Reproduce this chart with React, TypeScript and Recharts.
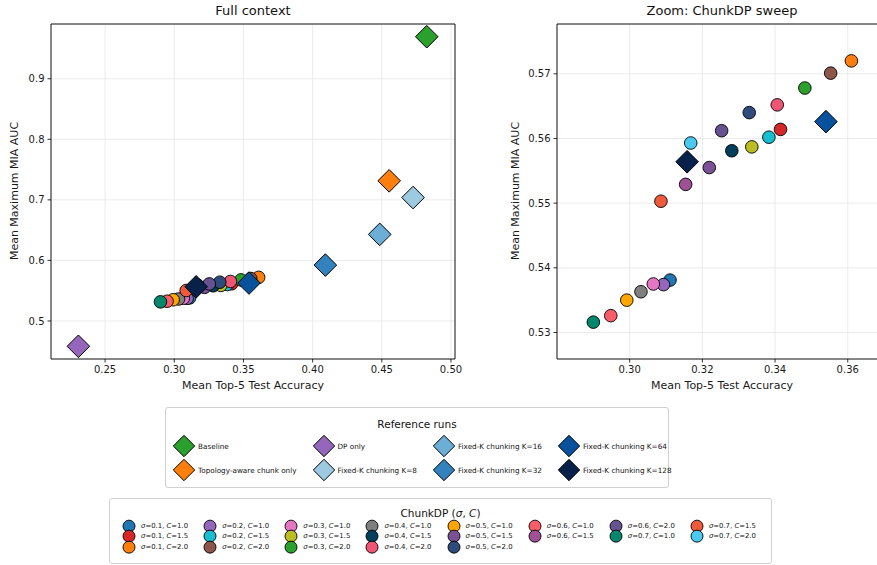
import React from "react";
import {
    ScatterChart, Scatter, XAxis, YAxis, CartesianGrid, ReferenceArea,
} from "recharts";

// ─── Data ─────────────────────────────────────────────────────────────────────

// ChunkDP sweep: sigma-major, C = 1.0 / 1.5 / 2.0 within each sigma
const chunkSigma = [0.1, 0.1, 0.1, 0.2, 0.2, 0.2, 0.3, 0.3, 0.3, 0.4, 0.4, 0.4, 0.5, 0.5, 0.5, 0.6, 0.6, 0.6, 0.7, 0.7, 0.7];
const chunkC = [1.0, 1.5, 2.0, 1.0, 1.5, 2.0, 1.0, 1.5, 2.0, 1.0, 1.5, 2.0, 1.0, 1.5, 2.0, 1.0, 1.5, 2.0, 1.0, 1.5, 2.0];
const chunkAcc = [
    0.3111, 0.3415, 0.3610,
    0.3093, 0.3383, 0.3553,
    0.3065, 0.3336, 0.3482,
    0.3031, 0.3281, 0.3406,
    0.2992, 0.3219, 0.3329,
    0.2948, 0.3154, 0.3253,
    0.2900, 0.3086, 0.3168,
];
const chunkAuc = [
    0.5381, 0.5614, 0.5720,
    0.5374, 0.5602, 0.5701,
    0.5375, 0.5587, 0.5678,
    0.5363, 0.5581, 0.5652,
    0.5350, 0.5555, 0.5640,
    0.5326, 0.5529, 0.5612,
    0.5316, 0.5503, 0.5593,
];
const chunkColors = [
    "#1f77b4", "#d62728", "#ff7f0e",
    "#9467bd", "#17becf", "#8c564b",
    "#e377c2", "#bcbd22", "#2ca02c",
    "#7f7f7f", "#003f5c", "#ef5675",
    "#ffa600", "#7a5195", "#2f4b7c",
    "#f95d6a", "#a05195", "#665191",
    "#00876c", "#ef5a3c", "#4cc9f0",
];

// Reference runs
const refNames = [
    "Baseline", "Topology-aware chunk only", "DP only", "Fixed-K chunking K=8",
    "Fixed-K chunking K=16", "Fixed-K chunking K=32", "Fixed-K chunking K=64", "Fixed-K chunking K=128",
];
const refAcc = [0.4825, 0.4553, 0.2307, 0.4726, 0.4485, 0.4092, 0.3540, 0.3158];
const refAuc = [0.9694, 0.7314, 0.4582, 0.7038, 0.6430, 0.5923, 0.5626, 0.5564];
const refColors = ["#2ca02c", "#ff7f0e", "#9467bd", "#9ecae1", "#6baed6", "#3182bd", "#08519c", "#08214a"];

// Axis ticks
const fullXTicks = [0.25, 0.3, 0.35, 0.4, 0.45, 0.5];
const fullYTicks = [0.5, 0.6, 0.7, 0.8, 0.9];
const zoomXTicks = [0.3, 0.32, 0.34, 0.36];
const zoomYTicks = [0.53, 0.54, 0.55, 0.56, 0.57];

// ─── Helpers ──────────────────────────────────────────────────────────────────

const FONT = '"DejaVu Sans", sans-serif';
const CIRCLE_R = 6.3;
const DIAMOND_R = 11.3;

const circleShape = (color: string) => (p: any) => (
    <circle cx={p.cx} cy={p.cy} r={CIRCLE_R} fill={color} stroke="#000" strokeWidth={0.9} />
);

const diamondPoints = (cx: number, cy: number, r: number) =>
    `${cx},${cy - r} ${cx + r},${cy} ${cx},${cy + r} ${cx - r},${cy}`;

const diamondShape = (color: string) => (p: any) => (
    <polygon points={diamondPoints(p.cx, p.cy, DIAMOND_R)} fill={color} stroke="#000" strokeWidth={1} />
);

const chunkLabel = (i: number) => (
    <>
        <i>σ</i>={chunkSigma[i].toFixed(1)}, <i>C</i>={chunkC[i].toFixed(1)}
    </>
);

interface PanelProps {
    title: string;
    left: number;
    width: number;
    marginLeft: number;
    marginRight: number;
    xDomain: [number, number];
    yDomain: [number, number];
    xTicks: number[];
    yTicks: number[];
    xDigits: number;
    yDigits: number;
    yLabelX: number;
}

function Panel(props: PanelProps) {
    const { xDomain, yDomain } = props;
    const tick = { fontSize: 10, fill: "#1a1a1a", fontFamily: FONT };
    const inside = (x: number, y: number) =>
        x >= xDomain[0] && x <= xDomain[1] && y >= yDomain[0] && y <= yDomain[1];
    const plotLeft = props.left + props.marginLeft + 45;
    const plotRight = props.left + props.width - props.marginRight;
    const centerX = (plotLeft + plotRight) / 2;

    return (
        <>
            <div style={{ position: "absolute", left: centerX - 150, width: 300, top: 3, textAlign: "center", fontSize: 13, fontFamily: FONT, color: "#111" }}>
                {props.title}
            </div>
            <div style={{ position: "absolute", left: props.left, top: 0 }}>
                <ScatterChart
                    width={props.width}
                    height={400}
                    margin={{ top: 24, right: props.marginRight, bottom: 11, left: props.marginLeft }}
                >
                    <CartesianGrid stroke="#e6e6e6" strokeWidth={0.8} />
                    <XAxis
                        type="number"
                        dataKey="x"
                        domain={xDomain}
                        ticks={props.xTicks}
                        interval={0}
                        allowDataOverflow
                        tickFormatter={(v: number) => v.toFixed(props.xDigits)}
                        tick={tick}
                        tickSize={3.5}
                        tickMargin={3}
                        tickLine={{ stroke: "#000", strokeWidth: 0.8 }}
                        axisLine={false}
                        height={30}
                    />
                    <YAxis
                        type="number"
                        dataKey="y"
                        domain={yDomain}
                        ticks={props.yTicks}
                        interval={0}
                        allowDataOverflow
                        tickFormatter={(v: number) => v.toFixed(props.yDigits)}
                        tick={tick}
                        tickSize={3.5}
                        tickMargin={3}
                        tickLine={{ stroke: "#000", strokeWidth: 0.8 }}
                        axisLine={false}
                        width={45}
                    />
                    {chunkAcc.map((x, i) =>
                        inside(x, chunkAuc[i]) ? (
                            <Scatter
                                key={`c${i}`}
                                data={[{ x, y: chunkAuc[i] }]}
                                fill={chunkColors[i]}
                                shape={circleShape(chunkColors[i])}
                                isAnimationActive={false}
                            />
                        ) : null
                    )}
                    {refAcc.map((x, i) =>
                        inside(x, refAuc[i]) ? (
                            <Scatter
                                key={`r${i}`}
                                data={[{ x, y: refAuc[i] }]}
                                fill={refColors[i]}
                                shape={diamondShape(refColors[i])}
                                isAnimationActive={false}
                            />
                        ) : null
                    )}
                    <ReferenceArea
                        x1={xDomain[0]}
                        x2={xDomain[1]}
                        y1={yDomain[0]}
                        y2={yDomain[1]}
                        fill="none"
                        fillOpacity={0}
                        stroke="#000"
                        strokeWidth={0.9}
                        ifOverflow="visible"
                    />
                </ScatterChart>
            </div>
            <div style={{ position: "absolute", left: centerX - 150, width: 300, top: 379, textAlign: "center", fontSize: 11, fontFamily: FONT, color: "#1a1a1a" }}>
                Mean Top-5 Test Accuracy
            </div>
            <div
                style={{
                    position: "absolute", left: props.yLabelX - 150, top: 184, width: 300, textAlign: "center",
                    fontSize: 11, fontFamily: FONT, color: "#1a1a1a", transform: "rotate(-90deg)", lineHeight: "14px",
                }}
            >
                Mean Maximum MIA AUC
            </div>
        </>
    );
}

function RefLegend() {
    const cols = [0, 1, 2, 3];
    return (
        <div style={{ position: "absolute", left: 165, top: 407, width: 502, height: 79, border: "1px solid #d0d0d0", borderRadius: 3, fontFamily: FONT, background: "#fff" }}>
            <div style={{ textAlign: "center", fontSize: 10.5, marginTop: 10, color: "#111" }}>Reference runs</div>
            <div style={{ display: "flex", gap: 15, marginLeft: 6, marginTop: 4 }}>
                {cols.map((c) => (
                    <div key={c}>
                        {[2 * c, 2 * c + 1].map((i) => (
                            <div key={i} style={{ display: "flex", alignItems: "center", height: 24 }}>
                                <svg width={24} height={24} style={{ overflow: "visible" }}>
                                    <polygon points={diamondPoints(12, 12, 10.7)} fill={refColors[i]} stroke="#000" strokeWidth={1} />
                                </svg>
                                <span style={{ fontSize: 7.25, marginLeft: 2, color: "#111", whiteSpace: "nowrap" }}>{refNames[i]}</span>
                            </div>
                        ))}
                    </div>
                ))}
            </div>
        </div>
    );
}

function ChunkLegend() {
    // 21 entries in 8 columns, filled column by column (3,3,3,3,3,2,2,2)
    const columns: number[][] = [];
    let k = 0;
    for (let c = 0; c < 8; c++) {
        const n = c < 5 ? 3 : 2;
        columns.push(Array.from({ length: n }, () => k++));
    }
    return (
        <div style={{ position: "absolute", left: 109, top: 498, width: 661, height: 64, border: "1px solid #d0d0d0", borderRadius: 3, fontFamily: FONT, background: "#fff" }}>
            <div style={{ textAlign: "center", fontSize: 10.5, marginTop: 8, color: "#111" }}>
                ChunkDP (<i>σ</i>, <i>C</i>)
            </div>
            <div style={{ display: "flex", gap: 0, marginLeft: 12, marginTop: 2 }}>
                {columns.map((col, c) => (
                    <div key={c} style={{ width: 81.3 }}>
                        {col.map((i) => (
                            <div key={i} style={{ display: "flex", alignItems: "center", height: 10.3 }}>
                                <svg width={14} height={10.3} style={{ overflow: "visible" }}>
                                    <circle cx={7} cy={5.15} r={6} fill={chunkColors[i]} stroke="#000" strokeWidth={0.9} />
                                </svg>
                                <span style={{ fontSize: 6.9, marginLeft: 5, color: "#111", whiteSpace: "nowrap" }}>{chunkLabel(i)}</span>
                            </div>
                        ))}
                    </div>
                ))}
            </div>
        </div>
    );
}

export default function App() {
    return (
        <div style={{ position: "absolute", left: 0, top: 0, width: 877, height: 565, overflow: "hidden", background: "#fff" }}>
            <Panel
                title="Full context"
                left={0}
                width={480}
                marginLeft={6}
                marginRight={25}
                xDomain={[0.2109, 0.5029]}
                yDomain={[0.4372, 0.9904]}
                xTicks={fullXTicks}
                yTicks={fullYTicks}
                xDigits={2}
                yDigits={1}
                yLabelX={15}
            />
            <Panel
                title="Zoom: ChunkDP sweep"
                left={460}
                width={430}
                marginLeft={52}
                marginRight={3}
                xDomain={[0.28, 0.3708]}
                yDomain={[0.5259, 0.5777]}
                xTicks={zoomXTicks}
                yTicks={zoomYTicks}
                xDigits={2}
                yDigits={2}
                yLabelX={516}
            />
            <RefLegend />
            <ChunkLegend />
        </div>
    );
}
